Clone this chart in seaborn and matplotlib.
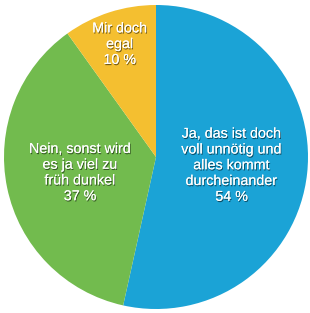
import numpy as np
import matplotlib
matplotlib.use("Agg")
import matplotlib.pyplot as plt
import matplotlib.patheffects as pe
import seaborn as sns

# data
labels = ["Ja, das ist doch\nvoll unnötig und\nalles kommt\ndurcheinander",
          "Nein, sonst wird\nes ja viel zu\nfrüh dunkel",
          "Mir doch\negal"]
values = [54, 37, 10]
colors = ["#1BA3D6", "#72BB4E", "#F4BF30"]
label_dist = [0.50, 0.51, 0.78]

sns.set_style("white")
plt.rcParams['font.family'] = ['Liberation Sans', 'DejaVu Sans']

fig = plt.figure(figsize=(3.10, 3.13), dpi=100)
ax = fig.add_axes([0, 0, 1, 1])
wedges, _ = ax.pie(values, colors=colors, startangle=90, counterclock=False,
                   radius=1, wedgeprops=dict(linewidth=0))

shadow = [pe.withSimplePatchShadow(offset=(0.6, -0.9), shadow_rgbFace="black", alpha=0.55),
          pe.Normal()]
for w, lab, v, d in zip(wedges, labels, values, label_dist):
    ang = np.deg2rad((w.theta1 + w.theta2) / 2)
    ax.text(d * np.cos(ang), d * np.sin(ang), f"{lab}\n{v} %",
            ha="center", va="center", color="white", fontsize=10.3,
            linespacing=1.16, path_effects=shadow)

ax.set_aspect("auto")
ax.set_xlim(-156 / 152, (310 - 156) / 152)
ax.set_ylim(-(313 - 157) / 152, 157 / 152)
ax.axis("off")
fig.savefig("out.png", dpi=100)
